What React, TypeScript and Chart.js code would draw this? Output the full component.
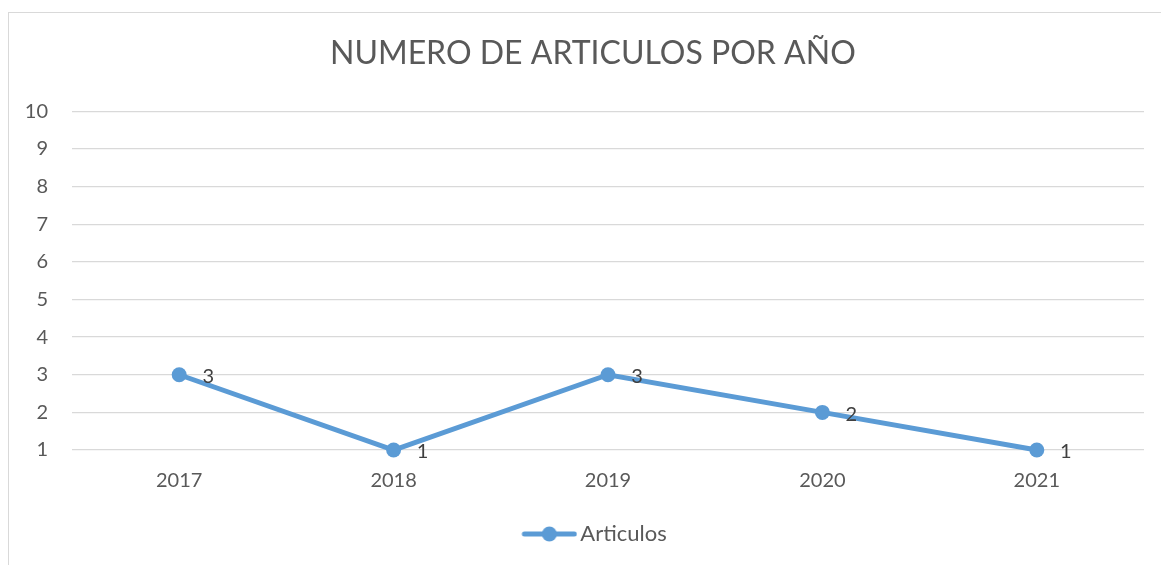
import React, { useEffect, useRef } from "react";
import { Chart, registerables } from "chart.js";

Chart.register(...registerables);

const categories = ["2017", "2018", "2019", "2020", "2021"];
const articulos = [3, 1, 3, 2, 1];
const seriesName = "Articulos";
const titleText = "NUMERO DE ARTICULOS POR AÑO";
const yMin = 1;
const yMax = 10;

const LINE_COLOR = "#5B9BD5";
const TEXT_COLOR = "#595959";
const FONT = "Lato, 'Open Sans', sans-serif";

const ICON_W = 99;
const BOX_W = 83;

function makeLegendIcon(): HTMLCanvasElement {
  const c = document.createElement("canvas");
  c.width = ICON_W;
  c.height = 18;
  const ctx = c.getContext("2d")!;
  ctx.strokeStyle = LINE_COLOR;
  ctx.lineWidth = 5;
  ctx.lineCap = "round";
  ctx.beginPath();
  ctx.moveTo(ICON_W - 56 + 3, 9);
  ctx.lineTo(ICON_W - 3, 9);
  ctx.stroke();
  ctx.fillStyle = LINE_COLOR;
  ctx.beginPath();
  ctx.arc(ICON_W - 28, 9, 7.5, 0, Math.PI * 2);
  ctx.fill();
  return c;
}

const dataLabelPlugin = {
  id: "dataLabels",
  afterDatasetsDraw(chart: any) {
    const ctx = chart.ctx;
    chart.data.datasets.forEach((ds: any, i: number) => {
      const meta = chart.getDatasetMeta(i);
      meta.data.forEach((el: any, j: number) => {
        ctx.save();
        ctx.font = `20px ${FONT}`;
        ctx.fillStyle = "#404040";
        ctx.textAlign = "center";
        ctx.textBaseline = "middle";
        ctx.fillText(String(ds.data[j]), el.x + 29, el.y + 2);
        ctx.restore();
      });
    });
  },
};

export default function App() {
  const ref = useRef<HTMLCanvasElement>(null);
  useEffect(() => {
    const icon = makeLegendIcon();
    const chart = new Chart(ref.current!, {
      type: "line",
      data: {
        labels: categories,
        datasets: [
          {
            label: seriesName,
            data: articulos,
            borderColor: LINE_COLOR,
            backgroundColor: LINE_COLOR,
            borderWidth: 5,
            pointRadius: 7.5,
            pointHoverRadius: 7.5,
            pointBackgroundColor: LINE_COLOR,
            pointBorderWidth: 0,
            tension: 0,
            clip: false,
          },
        ],
      },
      options: {
        responsive: false,
        animation: false,
        layout: { padding: { left: 0, right: 17, top: 0, bottom: 10 } },
        plugins: {
          title: {
            display: true,
            text: "\u00A0\u00A0\u00A0\u00A0" + titleText,
            color: TEXT_COLOR,
            font: { family: FONT, size: 32, weight: "normal" },
            padding: { top: 21, bottom: 39 },
          },
          legend: {
            position: "bottom",
            labels: {
              color: TEXT_COLOR,
              font: { family: FONT, size: 22 },
              usePointStyle: true,
              pointStyleWidth: BOX_W,
              generateLabels: (c: any) =>
                c.data.datasets.map((ds: any, i: number) => ({
                  text: ds.label,
                  fillStyle: LINE_COLOR,
                  strokeStyle: LINE_COLOR,
                  lineWidth: 0,
                  pointStyle: icon,
                  fontColor: TEXT_COLOR,
                  hidden: false,
                  datasetIndex: i,
                })),
            },
          },
          tooltip: { enabled: false },
        },
        scales: {
          x: {
            offset: true,
            grid: { display: false, drawTicks: false },
            border: { display: false },
            ticks: {
              color: TEXT_COLOR,
              font: { family: FONT, size: 20 },
              padding: 19,
              maxRotation: 0,
            },
            afterFit: (s: any) => {
              s.height = 63;
            },
          },
          y: {
            min: yMin,
            max: yMax,
            grid: { color: "#d9d9d9", lineWidth: 1.3, drawTicks: false },
            border: { display: false },
            ticks: {
              stepSize: 1,
              color: TEXT_COLOR,
              font: { family: FONT, size: 20 },
              padding: 24,
            },
            afterFit: (s: any) => {
              s.width = 63;
            },
          },
        },
      },
      plugins: [dataLabelPlugin],
    });
    return () => chart.destroy();
  }, []);

  return (
    <div
      style={{
        position: "absolute",
        left: 8,
        top: 12,
        width: 1153,
        height: 553,
        boxSizing: "border-box",
        borderTop: "1px solid #d9d9d9",
        borderLeft: "1px solid #d9d9d9",
        background: "#fff",
        overflow: "hidden",
      }}
    >
      <canvas ref={ref} width={1152} height={552} style={{ display: "block" }} />
    </div>
  );
}
